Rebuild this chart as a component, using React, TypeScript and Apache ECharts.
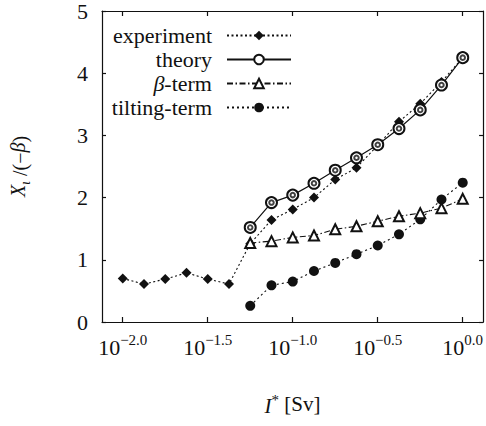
import React, { useEffect, useRef } from "react";
import * as echarts from "echarts";

// log10 of I* [Sv] for the measurement points (1/8-decade steps)
const xExp = [-2.0, -1.875, -1.75, -1.625, -1.5, -1.375, -1.25, -1.125, -1.0, -0.875, -0.75, -0.625, -0.5, -0.375, -0.25, -0.125, 0.0];
const experiment = [0.7, 0.61, 0.69, 0.79, 0.69, 0.61, 1.26, 1.64, 1.81, 2.0, 2.29, 2.48, 2.84, 3.22, 3.51, 3.86, 4.25];
// theory / beta / tilting start at xExp index 6
const theory = [1.52, 1.92, 2.04, 2.23, 2.44, 2.64, 2.85, 3.11, 3.41, 3.81, 4.25];
const betaTerm = [1.27, 1.3, 1.36, 1.39, 1.49, 1.54, 1.62, 1.7, 1.75, 1.83, 1.98];
const tiltingTerm = [0.26, 0.59, 0.65, 0.82, 0.95, 1.09, 1.23, 1.41, 1.65, 1.97, 2.24];
const xTickExps = [-2.0, -1.5, -1.0, -0.5, 0.0];
const xTickLabels = ["−2.0", "−1.5", "−1.0", "−0.5", "0.0"];
const seriesNames = ["experiment", "theory", "β-term", "tilting-term"];

const FONT = "Liberation Serif";
const INK = "#111";

function pairs(vals: number[], start: number) {
  return vals.map((v, i) => [xExp[start + i], v]);
}

export default function App() {
  const ref = useRef<HTMLDivElement>(null);
  useEffect(() => {
    if (!ref.current) return;
    const chart = echarts.init(ref.current, undefined, { renderer: "svg" });
    const xMin = -2.122;
    const xMax = 0.1196;
    const axisLineStyle = { color: INK, width: 1.2 };
    chart.setOption({
      animation: false,
      backgroundColor: "#fff",
      textStyle: { fontFamily: FONT },
      grid: { left: 100, top: 10, width: 386, height: 312 },
      legend: {
        data: seriesNames,
        orient: "vertical",
        align: "right",
        right: 194,
        top: 24,
        padding: 0,
        itemWidth: 64,
        itemHeight: 12,
        itemGap: 1,
        textStyle: {
          fontFamily: FONT,
          fontSize: 22,
          color: INK,
          lineHeight: 23,
          padding: [0, 10, 0, 0],
          rich: { i: { fontFamily: FONT, fontSize: 22, fontStyle: "italic", color: INK } },
        },
        formatter: (n: string) => (n === "β-term" ? "{i|β}-term" : n),
      },
      xAxis: [
        {
          type: "value",
          min: xMin,
          max: xMax,
          position: "bottom",
          axisLine: { show: true, onZero: false, lineStyle: axisLineStyle },
          axisTick: { show: true, inside: true, length: 5, lineStyle: axisLineStyle, customValues: xTickExps },
          splitLine: { show: false },
          axisLabel: {
            customValues: xTickExps,
            margin: 10,
            formatter: (v: number) => {
              const idx = xTickExps.findIndex((t) => Math.abs(t - v) < 1e-6);
              return `{b|10}{s|${idx >= 0 ? xTickLabels[idx] : ""}}`;
            },
            rich: {
              b: { fontFamily: FONT, fontSize: 22, color: INK, lineHeight: 26, verticalAlign: "bottom" },
              s: { fontFamily: FONT, fontSize: 15, color: INK, lineHeight: 26, verticalAlign: "top" },
            },
          },
          name: "{i|I}{s|*} [Sv]",
          nameLocation: "middle",
          nameGap: 70,
          nameTextStyle: {
            rich: {
              i: { fontFamily: FONT, fontSize: 21, fontStyle: "italic", color: INK, lineHeight: 24, verticalAlign: "bottom" },
              s: { fontFamily: FONT, fontSize: 15, color: INK, lineHeight: 24, verticalAlign: "top" },
            },
            fontFamily: FONT,
            fontSize: 21,
            color: INK,
          },
        },
        {
          type: "value",
          min: xMin,
          max: xMax,
          position: "top",
          axisLine: { show: true, onZero: false, lineStyle: axisLineStyle },
          axisTick: { show: true, inside: true, length: 5, lineStyle: axisLineStyle, customValues: xTickExps },
          axisLabel: { show: false },
          splitLine: { show: false },
        },
      ],
      yAxis: [
        {
          type: "value",
          min: 0,
          max: 5,
          interval: 1,
          position: "left",
          axisLine: { show: true, onZero: false, lineStyle: axisLineStyle },
          axisTick: { show: true, inside: true, length: 4, lineStyle: axisLineStyle },
          splitLine: { show: false },
          axisLabel: { fontFamily: FONT, fontSize: 22, color: INK, margin: 14 },
          name: "{i|X}{sub|ι} /(−{i|β})",
          nameLocation: "middle",
          nameGap: 70,
          nameTextStyle: {
            fontFamily: FONT,
            fontSize: 20,
            color: INK,
            rich: {
              i: { fontFamily: FONT, fontSize: 20, fontStyle: "italic", color: INK, lineHeight: 24, verticalAlign: "top" },
              sub: { fontFamily: FONT, fontSize: 14, fontStyle: "italic", color: INK, lineHeight: 24, verticalAlign: "bottom" },
            },
          },
        },
        {
          type: "value",
          min: 0,
          max: 5,
          interval: 1,
          position: "right",
          axisLine: { show: true, onZero: false, lineStyle: axisLineStyle },
          axisTick: { show: true, inside: true, length: 4, lineStyle: axisLineStyle },
          axisLabel: { show: false },
          splitLine: { show: false },
        },
      ],
      series: [
        {
          name: "experiment",
          type: "line",
          data: pairs(experiment, 0),
          symbol: "diamond",
          symbolSize: 10,
          itemStyle: { color: INK },
          lineStyle: { color: INK, width: 1.1, type: [2, 2.5] },
          z: 2,
        },
        {
          name: "tilting-term",
          type: "line",
          data: pairs(tiltingTerm, 6),
          symbol: "circle",
          symbolSize: 10,
          itemStyle: { color: INK },
          lineStyle: { color: INK, width: 1.1, type: [2, 3] },
          z: 3,
        },
        {
          name: "β-term",
          type: "line",
          data: pairs(betaTerm, 6),
          symbol: "emptyTriangle",
          symbolSize: 10,
          itemStyle: { color: INK, borderWidth: 1.2 },
          lineStyle: { color: INK, width: 1.1, type: [6, 2.5, 1.5, 2.5] },
          z: 4,
        },
        {
          name: "theory",
          type: "line",
          data: pairs(theory, 6),
          symbol: "emptyCircle",
          symbolSize: 11,
          itemStyle: { color: INK, borderWidth: 1.2 },
          lineStyle: { color: INK, width: 1.2, type: "solid" },
          z: 5,
        },
        {
          name: "theory-dot",
          type: "scatter",
          data: pairs(theory, 6),
          symbol: "emptyCircle",
          symbolSize: 4.5,
          itemStyle: { color: INK, borderWidth: 1 },
          z: 6,
        },
      ],
    });
    return () => chart.dispose();
  }, []);
  return <div ref={ref} style={{ position: "absolute", left: 0, top: 0, width: 486, height: 426 }} />;
}
